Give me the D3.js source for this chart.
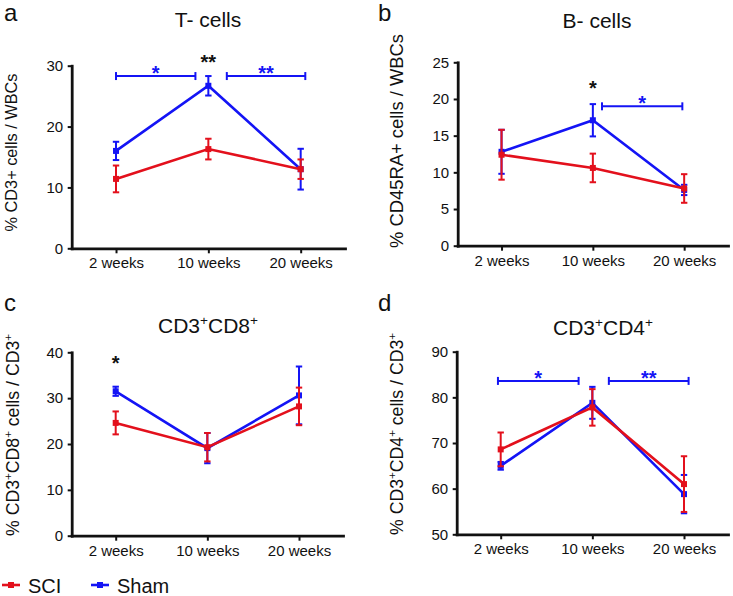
<!DOCTYPE html>
<html>
<head>
<meta charset="utf-8">
<script src="https://cdn.jsdelivr.net/npm/d3@7"></script>
<style>
  body { margin: 0; background: #fff; }
  svg text { font-family: "Liberation Sans", Arial, Helvetica, sans-serif; }
</style>
</head>
<body>
<div id="chartDiv"></div>
<script>
// ---- data (mean and SEM per time point) ----
const weeks = ["2 weeks", "10 weeks", "20 weeks"];
const groups = ["SCI", "Sham"];

// a: T- cells
const tCellSci = [11.4, 16.3, 13.0];
const tCellSciSem = [2.2, 1.7, 1.6];
const tCellSham = [16.0, 26.7, 13.0];
const tCellShamSem = [1.5, 1.6, 3.35];
const tCellTicks = [0, 10, 20, 30];

// b: B- cells
const bCellSci = [12.4, 10.6, 7.8];
const bCellSciSem = [3.4, 1.95, 1.95];
const bCellSham = [12.8, 17.1, 7.6];
const bCellShamSem = [3.0, 2.2, 0.7];
const bCellTicks = [0, 5, 10, 15, 20, 25];

// c: CD3+CD8+
const cd8Sci = [24.6, 19.3, 28.2];
const cd8SciSem = [2.5, 3.1, 4.1];
const cd8Sham = [31.5, 19.1, 30.6];
const cd8ShamSem = [1.0, 3.3, 6.3];
const cd8Ticks = [0, 10, 20, 30, 40];

// d: CD3+CD4+
const cd4Sci = [68.6, 77.8, 61.0];
const cd4SciSem = [3.7, 4.0, 6.1];
const cd4Sham = [65.0, 78.8, 58.8];
const cd4ShamSem = [0.85, 3.5, 4.2];
const cd4Ticks = [50, 60, 70, 80, 90];

// significance marks (positions in week-index / value units)
const tCellBrackets = [{from: 0, to: 0.86, at: 28.3, mark: "*"}, {from: 1.2, to: 2.05, at: 28.3, mark: "**"}];
const tCellStars = [{week: 1, at: 29.5, mark: "**"}];
const bCellBrackets = [{from: 1.1, to: 1.98, at: 19.0, mark: "*"}];
const bCellStars = [{week: 1, at: 20.6, mark: "*"}];
const cd8Brackets = [];
const cd8Stars = [{week: 0, at: 36.2, mark: "*"}];
const cd4Brackets = [{from: -0.03, to: 0.85, at: 83.6, mark: "*"}, {from: 1.18, to: 2.05, at: 83.6, mark: "**"}];
const cd4Stars = [];

const RED = "#e3101c";
const BLUE = "#1414f5";
const INK = "#111";

// ---- layout ----
const panels = [
    {letter: "a", title: "T- cells", yLabel: "% CD3+ cells / WBCs",
     sci: tCellSci, sciSem: tCellSciSem, sham: tCellSham, shamSem: tCellShamSem,
     ticks: tCellTicks, brackets: tCellBrackets, stars: tCellStars,
     x0: 71.7, x1: 345, yTop: 65.7, yBot: 248.3,
     titleX: 208, titleY: 27, labelX: 17, labelY: 152.5, labelSize: 16.3, letterX: 4, letterY: 21},
    {letter: "b", title: "B- cells", yLabel: "% CD45RA+ cells / WBCs",
     sci: bCellSci, sciSem: bCellSciSem, sham: bCellSham, shamSem: bCellShamSem,
     ticks: bCellTicks, brackets: bCellBrackets, stars: bCellStars,
     x0: 457.7, x1: 728, yTop: 62.3, yBot: 245.7,
     titleX: 597, titleY: 28, labelX: 403, labelY: 141, labelSize: 18.4, letterX: 378, letterY: 21},
    {letter: "c", title: "CD3^+CD8^+", yLabel: "% CD3^+CD8^+ cells / CD3^+",
     sci: cd8Sci, sciSem: cd8SciSem, sham: cd8Sham, shamSem: cd8ShamSem,
     ticks: cd8Ticks, brackets: cd8Brackets, stars: cd8Stars,
     x0: 71.7, x1: 343, yTop: 352.3, yBot: 535.7,
     titleX: 208, titleY: 333, labelX: 19, labelY: 435, labelSize: 17.7, letterX: 4, letterY: 311},
    {letter: "d", title: "CD3^+CD4^+", yLabel: "% CD3^+CD4^+ cells / CD3^+",
     sci: cd4Sci, sciSem: cd4SciSem, sham: cd4Sham, shamSem: cd4ShamSem,
     ticks: cd4Ticks, brackets: cd4Brackets, stars: cd4Stars,
     x0: 456.7, x1: 728, yTop: 351.7, yBot: 534.3,
     titleX: 603, titleY: 335, labelX: 403, labelY: 434, labelSize: 17.7, letterX: 378, letterY: 311}
];

const width = 733, height = 596;

let svg = d3.select("#chartDiv").append("svg")
    .attr("width", width)
    .attr("height", height);

// text with ^x superscripts
function richText(sel, str, size) {
    const parts = str.split(/\^(\S)/);
    let shift = 0;
    parts.forEach((p, i) => {
        if (!p) return;
        let ts = sel.append("tspan").text(p);
        if (i % 2 === 1) {
            ts.attr("font-size", size * 0.65).attr("dy", -size * 0.4);
            shift = size * 0.4;
        } else {
            if (shift) ts.attr("dy", shift);
            shift = 0;
        }
    });
}

function drawPanel(p) {
    let g = svg.append("g");

    let x = d3.scaleLinear()
        .domain([-0.48, 2.48])
        .range([p.x0, p.x1]);

    let y = d3.scaleLinear()
        .domain(d3.extent(p.ticks))
        .range([p.yBot, p.yTop]);

    // axes
    let yAxis = d3.axisLeft(y)
        .tickValues(p.ticks)
        .tickSize(4)
        .tickSizeOuter(0)
        .tickPadding(4.5);

    let xAxis = d3.axisBottom(x)
        .tickValues([0, 1, 2])
        .tickFormat(i => weeks[i])
        .tickSize(5)
        .tickSizeOuter(0)
        .tickPadding(4.4);

    [[xAxis, `translate(0,${p.yBot})`], [yAxis, `translate(${p.x0},0)`]].forEach(([ax, tr]) => {
        let a = g.append("g")
            .attr("transform", tr)
            .call(ax);
        a.select(".domain").attr("stroke", INK).attr("stroke-width", 2.8).attr("stroke-linecap", "square");
        a.selectAll(".tick line").attr("stroke", INK).attr("stroke-width", 2);
        a.selectAll(".tick text").attr("fill", INK).attr("font-size", 15)
            .attr("font-family", '"Liberation Sans", Arial, sans-serif');
    });

    // series: Sham first, SCI on top
    const series = [
        {mean: p.sham, sem: p.shamSem, color: BLUE},
        {mean: p.sci, sem: p.sciSem, color: RED}
    ];

    series.forEach(s => {
        const pts = s.mean.map((v, i) => ({i: i, v: v, e: s.sem[i]}));

        g.append("path")
            .datum(pts)
            .attr("fill", "none")
            .attr("stroke", s.color)
            .attr("stroke-width", 2.6)
            .attr("d", d3.line().x(d => x(d.i)).y(d => y(d.v)));

        let eb = g.append("g").selectAll("g")
            .data(pts)
            .join("g")
            .attr("stroke", s.color)
            .attr("stroke-width", 2);

        eb.append("line")
            .attr("x1", d => x(d.i)).attr("x2", d => x(d.i))
            .attr("y1", d => y(d.v - d.e)).attr("y2", d => y(d.v + d.e));
        eb.append("line")
            .attr("x1", d => x(d.i) - 3.2).attr("x2", d => x(d.i) + 3.2)
            .attr("y1", d => y(d.v + d.e)).attr("y2", d => y(d.v + d.e));
        eb.append("line")
            .attr("x1", d => x(d.i) - 3.2).attr("x2", d => x(d.i) + 3.2)
            .attr("y1", d => y(d.v - d.e)).attr("y2", d => y(d.v - d.e));

        g.append("g").selectAll("rect")
            .data(pts)
            .join("rect")
            .attr("x", d => x(d.i) - 3)
            .attr("y", d => y(d.v) - 3)
            .attr("width", 6)
            .attr("height", 6)
            .attr("fill", s.color);
    });

    // significance brackets
    p.brackets.forEach(b => {
        let bg = g.append("g").attr("stroke", BLUE).attr("stroke-width", 2);
        bg.append("line")
            .attr("x1", x(b.from)).attr("x2", x(b.to))
            .attr("y1", y(b.at)).attr("y2", y(b.at));
        [b.from, b.to].forEach(v => {
            bg.append("line")
                .attr("x1", x(v)).attr("x2", x(v))
                .attr("y1", y(b.at) - 4).attr("y2", y(b.at) + 4);
        });
        g.append("text")
            .attr("x", x((b.from + b.to) / 2))
            .attr("y", y(b.at) + 4)
            .attr("text-anchor", "middle")
            .attr("font-size", 20)
            .attr("font-weight", "bold")
            .attr("fill", BLUE)
            .text(b.mark);
    });

    p.stars.forEach(s => {
        g.append("text")
            .attr("x", x(s.week))
            .attr("y", y(s.at))
            .attr("text-anchor", "middle")
            .attr("font-size", 20)
            .attr("font-weight", "bold")
            .attr("fill", INK)
            .text(s.mark);
    });

    // title, y label, panel letter
    let title = g.append("text")
        .attr("x", p.titleX)
        .attr("y", p.titleY)
        .attr("text-anchor", "middle")
        .attr("font-size", 21)
        .attr("fill", INK);
    richText(title, p.title, 21);

    let yl = g.append("text")
        .attr("transform", `translate(${p.labelX},${p.labelY}) rotate(-90)`)
        .attr("text-anchor", "middle")
        .attr("font-size", p.labelSize)
        .attr("fill", INK);
    richText(yl, p.yLabel, p.labelSize);

    g.append("text")
        .attr("x", p.letterX)
        .attr("y", p.letterY)
        .attr("font-size", 24)
        .attr("fill", INK)
        .text(p.letter);
}

panels.forEach(drawPanel);

// legend
const legendColors = [RED, BLUE];
const legendX = [2, 91];
let legend = svg.append("g").selectAll("g")
    .data(groups)
    .join("g")
    .attr("transform", (d, i) => `translate(${legendX[i]},585)`);

legend.append("line")
    .attr("x1", 0).attr("x2", 18)
    .attr("stroke", (d, i) => legendColors[i])
    .attr("stroke-width", 2.6);
legend.append("rect")
    .attr("x", 6).attr("y", -3)
    .attr("width", 6).attr("height", 6)
    .attr("fill", (d, i) => legendColors[i]);
legend.append("text")
    .attr("x", 26)
    .attr("y", 8)
    .attr("font-size", 20)
    .attr("fill", INK)
    .text(d => d);
</script>
</body>
</html>
